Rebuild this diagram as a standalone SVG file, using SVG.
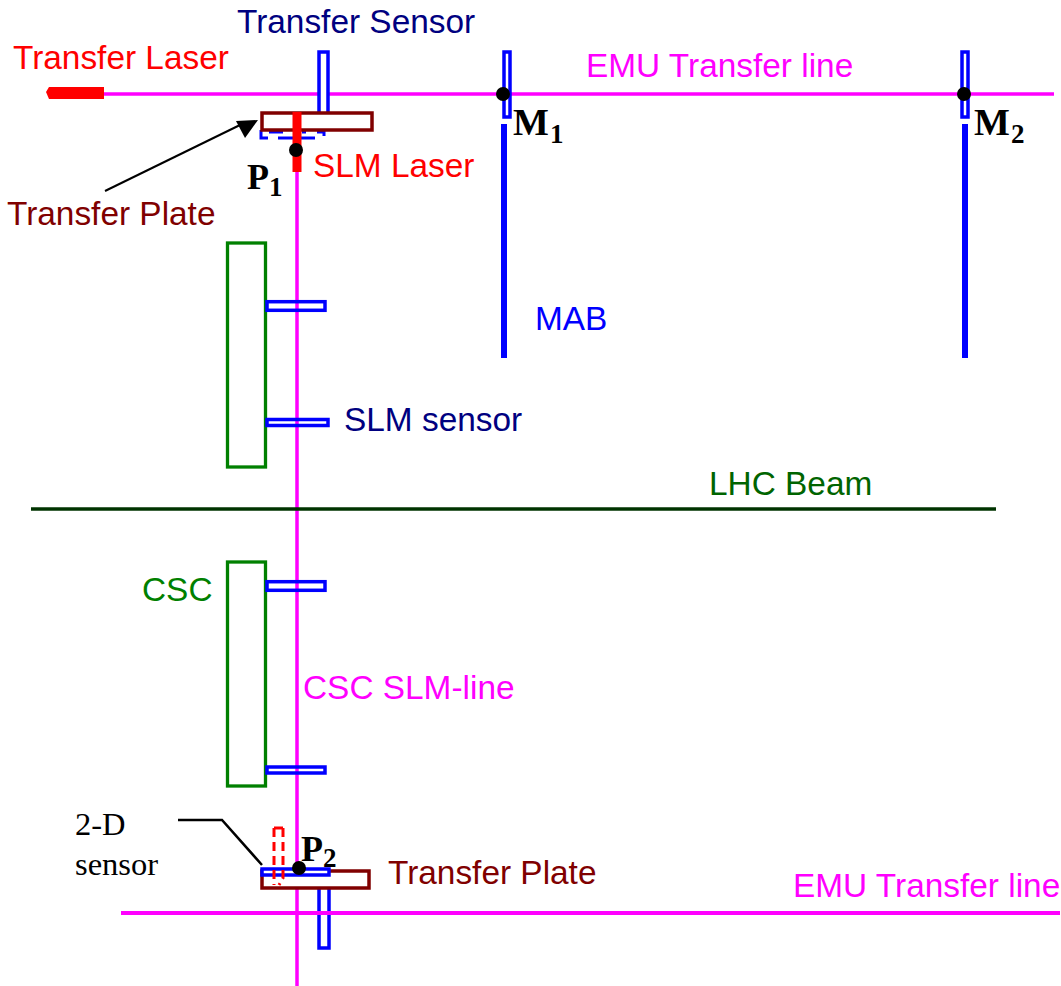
<svg xmlns="http://www.w3.org/2000/svg" width="1061" height="986" viewBox="0 0 1061 986">
<style>
text{font-family:"Liberation Sans",Arial,sans-serif;font-size:33.4px}
.s{font-family:"Liberation Serif","Times New Roman",serif;font-weight:bold;font-size:38px;fill:#000}
.pt{font-size:36px}
.sub{font-family:"Liberation Serif","Times New Roman",serif;font-weight:bold;font-size:27px;fill:#000}
.t{font-family:"Liberation Serif","Times New Roman",serif;font-size:32.5px;fill:#000}
.m{stroke:#ff00ff;stroke-width:3.5;fill:none}
.b{stroke:#0000ff;stroke-width:3.5;fill:#fff}
.o{stroke:#0000ff;stroke-width:3.5;fill:none}
.bb{stroke:#0000ff;stroke-width:6;fill:none}
.p{stroke:#800000;stroke-width:3.5;fill:#fff}
.g{stroke:#008000;stroke-width:3.3;fill:#fff}
.k{fill:#000}
</style>
<g id="connectors">
<path class="m" d="M104 94H1054"/>
<path class="m" d="M297 172V986"/>
<path class="m" d="M121 913H1060" style="stroke-width:4"/>
<path d="M31 509H996" stroke="#003300" stroke-width="3.5" fill="none"/>
<path class="bb" d="M504 124V358"/>
<path class="bb" d="M965 124V358"/>
<path d="M105 191L240 125" stroke="#000" stroke-width="2" fill="none"/>
<path d="M258 120L236 121L245 138Z" fill="#000"/>
<path d="M178 820H222L262 865" stroke="#000" stroke-width="2.5" fill="none"/>
</g>
<g id="transfer-laser"><path d="M46 92L49 87H104V99H49Z" fill="#ff0000"/><text x="13" y="69" fill="#ff0000">Transfer Laser</text></g>
<g id="transfer-sensor"><rect class="b" x="319" y="52" width="9" height="62"/><text x="237" y="33" fill="#000080">Transfer Sensor</text></g>
<g id="top-plate">
<path d="M269 132H283M302 132H306M317 132H325M261 130V138H268M278 138H315M324 128V136" stroke="#0000ff" stroke-width="3" fill="none"/>
<rect class="p" x="262" y="113" width="110" height="17"/>
<path d="M297 112V172" stroke="#ff0000" stroke-width="9" fill="none"/>
<circle class="k" cx="296" cy="150" r="7"/>
<text x="313" y="177" fill="#ff0000">SLM Laser</text>
<text class="s pt" x="247" y="189">P</text><text class="sub" x="269" y="196">1</text>
<text x="7" y="225" fill="#800000">Transfer Plate</text>
</g>
<g id="m1"><rect class="b" x="504" y="52" width="6" height="65"/><circle class="k" cx="503" cy="94" r="7"/><text class="s" x="513" y="135">M</text><text class="sub" x="550" y="143">1</text></g>
<g id="m2"><rect class="b" x="962" y="52" width="6" height="65"/><circle class="k" cx="964" cy="94" r="7"/><text class="s" x="974" y="135">M</text><text class="sub" x="1011" y="143">2</text></g>
<g id="upper-csc">
<rect class="g" x="227.5" y="243" width="38" height="224"/>
<rect class="o" x="267" y="301.7" width="58" height="8.6"/>
<rect class="o" x="267" y="419.5" width="61" height="6"/>
<text x="344" y="431" fill="#000080">SLM sensor</text>
</g>
<g id="lower-csc">
<rect class="g" x="227.5" y="562" width="38" height="224"/>
<rect class="o" x="267" y="581.7" width="58" height="8.6"/>
<rect class="o" x="267" y="767" width="58" height="6"/>
<text x="142" y="601" fill="#008000">CSC</text>
</g>
<g id="labels">
<text x="586" y="77" fill="#ff00ff">EMU Transfer line</text>
<text x="535" y="330" fill="#0000ff">MAB</text>
<text x="709" y="495" fill="#006400">LHC Beam</text>
<text x="303" y="699" fill="#ff00ff">CSC SLM-line</text>
<text x="793" y="897" fill="#ff00ff">EMU Transfer line</text>
</g>
<g id="bottom-plate">
<rect class="b" x="319" y="885" width="10" height="63"/>
<path class="m" d="M121 913H1060" style="stroke-width:4"/>
<rect class="p" x="262" y="871" width="107" height="17"/>
<rect class="b" x="262" y="869" width="67" height="6"/>
<path d="M274 828H283" stroke="#ff0000" stroke-width="3" fill="none"/>
<path d="M274 828V885M283 828V878L279 885" stroke="#ff0000" stroke-width="3" fill="none" stroke-dasharray="9 5"/>
<circle class="k" cx="299" cy="868" r="7"/>
<text class="s pt" x="301" y="861">P</text><text class="sub" x="323" y="867">2</text>
<text x="388" y="884" fill="#800000">Transfer Plate</text>
</g>
<g id="sensor-2d"><text class="t" x="75" y="835">2-D</text><text class="t" x="75" y="875">sensor</text></g>
</svg>
